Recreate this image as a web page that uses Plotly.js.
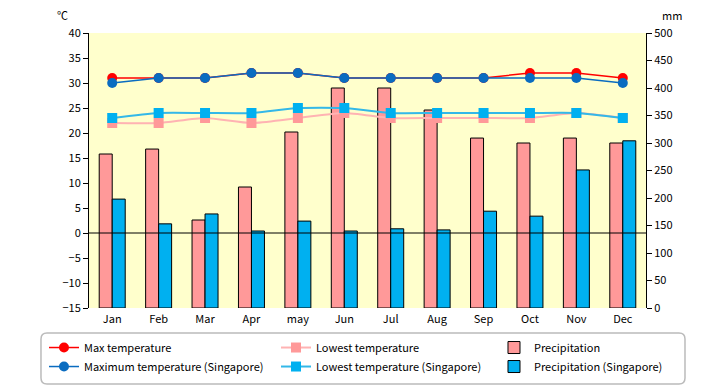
<!DOCTYPE html>
<html><head><meta charset="utf-8">
<script src="https://cdn.plot.ly/plotly-3.0.1.min.js"></script>
<style>html,body{margin:0;padding:0;background:#fff}#chart{width:720px;height:385px}</style>
</head><body><div id="chart"></div>
<script>
const months = ["Jan","Feb","Mar","Apr","may","Jun","Jul","Aug","Sep","Oct","Nov","Dec"];
const maxTemp = [31,31,31,32,32,31,31,31,31,32,32,31];
const lowTemp = [22,22,23,22,23,24,23,23,23,23,24,23];
const precip = [280,289,160,220,320,400,400,360,309,300,309,300];
const maxTempSG = [30,31,31,32,32,31,31,31,31,31,31,30];
const lowTempSG = [23,24,24,24,25,25,24,24,24,24,24,23];
const precipSG = [198,153,171,140,158,140,144,142,176,167,251,304];

const font = "'Noto Sans CJK JP', 'DejaVu Sans', sans-serif";
const traces = [
  {type:'bar', x:months, y:precip, name:'Precipitation', yaxis:'y', legend:'legend3', legendgroup:'p1', legendrank:1,
   marker:{color:'#FF9999', line:{color:'#000', width:1}}},
  {type:'bar', x:months, y:precipSG, name:'Precipitation (Singapore)', yaxis:'y', legend:'legend3', legendgroup:'p2', legendrank:2,
   marker:{color:'#00B0F0', line:{color:'#000', width:1}}},
  {type:'scatter', mode:'lines+markers', x:months, y:lowTemp, name:'Lowest temperature', yaxis:'y2', legend:'legend2', legendgroup:'l1', legendrank:1,
   line:{color:'#FFB3B3', width:2, shape:'spline', smoothing:0.6}, marker:{symbol:'square', size:10, color:'#FF9999'}},
  {type:'scatter', mode:'lines+markers', x:months, y:lowTempSG, name:'Lowest temperature (Singapore)', yaxis:'y2', legend:'legend2', legendgroup:'l2', legendrank:2,
   line:{color:'#33B8E8', width:2, shape:'spline', smoothing:0.6}, marker:{symbol:'square', size:10, color:'#00B0F0'}},
  {type:'scatter', mode:'lines+markers', x:months, y:maxTemp, name:'Max temperature', yaxis:'y2', legend:'legend', legendgroup:'m1', legendrank:1,
   line:{color:'#FF0000', width:1.5}, marker:{symbol:'circle', size:10, color:'#FF0000'}},
  {type:'scatter', mode:'lines+markers', x:months, y:maxTempSG, name:'Maximum temperature (Singapore)', yaxis:'y2', legend:'legend', legendgroup:'m2', legendrank:2,
   line:{color:'#0A6CC0', width:1.5}, marker:{symbol:'circle', size:10, color:'#0A6CC0'}}
];

function leg(x){
  return {orientation:'v', xref:'paper', yref:'paper', x:x, xanchor:'left', y:-0.091, yanchor:'top',
    bgcolor:'rgba(0,0,0,0)', borderwidth:0, font:{size:11}, tracegroupgap:7, itemwidth:30, traceorder:'normal'};
}
const rx = 6/557, ry = 6/275;
const bx0 = -0.0862, bx1 = 1.070, by0 = -0.0909, by1 = -0.2764;
const boxPath = `M ${bx0+rx} ${by0} L ${bx1-rx} ${by0} Q ${bx1} ${by0} ${bx1} ${by0-ry} L ${bx1} ${by1+ry} Q ${bx1} ${by1} ${bx1-rx} ${by1} L ${bx0+rx} ${by1} Q ${bx0} ${by1} ${bx0} ${by1+ry} L ${bx0} ${by0-ry} Q ${bx0} ${by0} ${bx0+rx} ${by0} Z`;

const layout = {
  width:720, height:385,
  margin:{l:89, r:74, t:33, b:77, autoexpand:false},
  paper_bgcolor:'#ffffff', plot_bgcolor:'#FFFFCC',
  font:{family:font, size:11, color:'#000'},
  barmode:'group', bargap:0.44, bargroupgap:0,
  showlegend:true,
  xaxis:{type:'category', range:[-0.5, 11.5], showline:false, ticks:'', showgrid:false, tickfont:{size:11}, ticklabelstandoff:3},
  yaxis:{side:'right', range:[0,500], dtick:50, showgrid:false, zeroline:false,
    showline:true, linecolor:'#000', linewidth:1, ticks:'outside', ticklen:5, tickcolor:'#000', tickfont:{size:11}},
  yaxis2:{overlaying:'y', side:'left', range:[-15,40], dtick:5, showgrid:false, zeroline:false,
    showline:true, linecolor:'#000', linewidth:1, ticks:'outside', ticklen:5, tickcolor:'#000', tickfont:{size:11}},
  shapes:[
    {type:'line', xref:'paper', x0:0, x1:1, yref:'y2', y0:0, y1:0, line:{color:'#000', width:1}, layer:'above'},
    {type:'path', xref:'paper', yref:'paper', path:boxPath, line:{color:'#BBBBBB', width:1.5}, fillcolor:'#ffffff', layer:'below'}
  ],
  legend: leg(-0.0808),
  legend2: leg(0.3357),
  legend3: leg(0.7271),
  annotations:[
    {text:'℃', xref:'paper', yref:'paper', x:-0.048, y:1.03, xanchor:'center', yanchor:'bottom', showarrow:false, font:{size:11}},
    {text:'mm', xref:'paper', yref:'paper', x:1.047, y:1.03, xanchor:'center', yanchor:'bottom', showarrow:false, font:{size:11}}
  ]
};
Plotly.newPlot('chart', traces, layout, {displayModeBar:false, staticPlot:true});
</script></body></html>
